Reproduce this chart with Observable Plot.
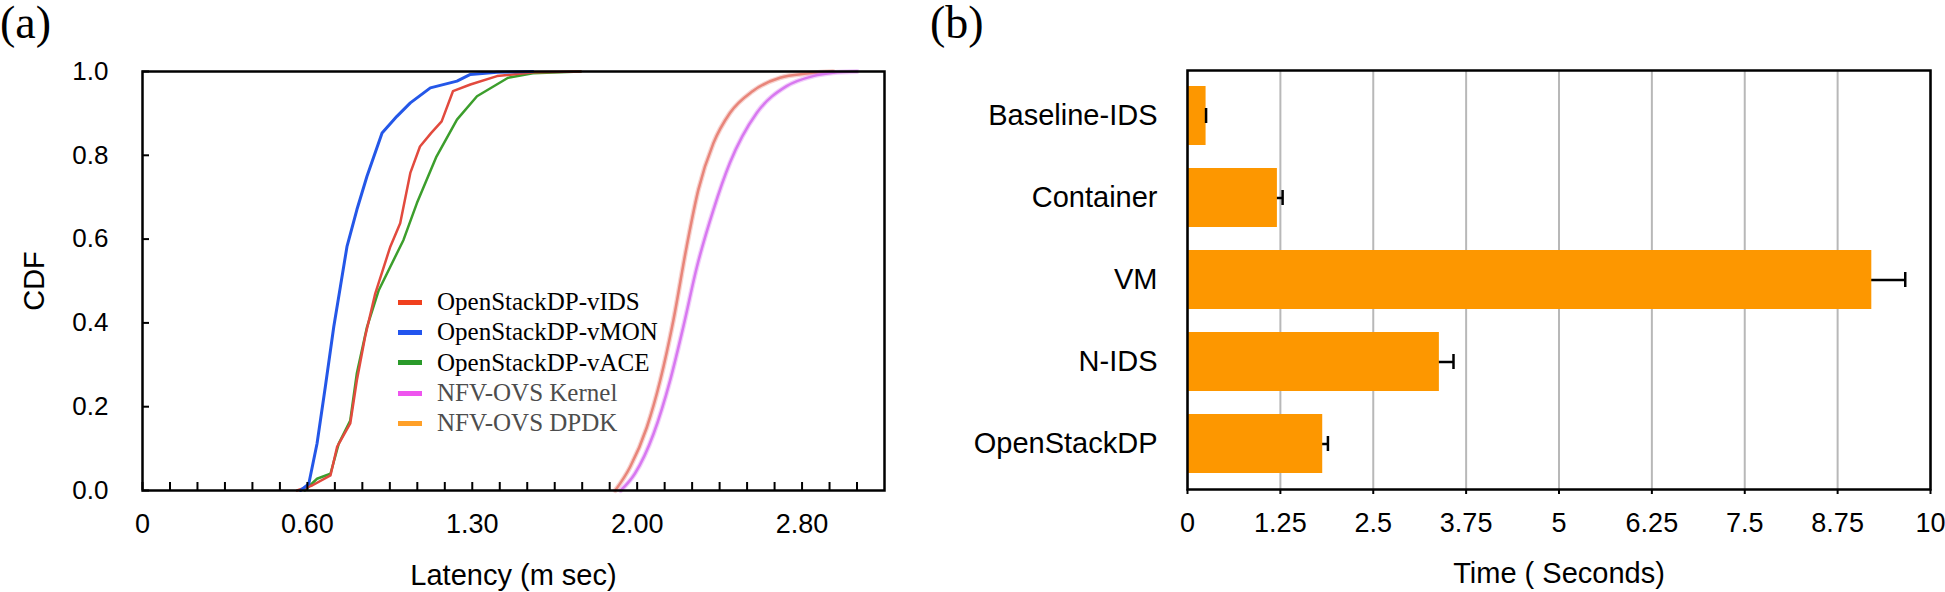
<!DOCTYPE html>
<html><head><meta charset="utf-8">
<script src="https://cdn.jsdelivr.net/npm/d3@7"></script>
<script src="https://cdn.jsdelivr.net/npm/@observablehq/plot@0.6"></script>
<style>
body{margin:0;background:#fff;width:1945px;height:592px;position:relative;overflow:hidden;font-family:"Liberation Sans",Arial,sans-serif}
#a,#b{position:absolute;top:0}
#a{left:0}
#b{left:940px}
.tag{position:absolute;font-family:"Liberation Serif","Times New Roman",serif;font-size:46px;line-height:46px;color:#000}
#legend{position:absolute;left:398px;top:287px;font-family:"Liberation Serif","Times New Roman",serif;font-size:25px}
#legend .row{height:30.3px;display:flex;align-items:center;white-space:nowrap}
#legend .sw{width:24px;height:5px;margin-right:15px}
</style></head><body>
<div id="a"></div><div id="b"></div>
<div class="tag" style="left:0;top:0">(a)</div>
<div class="tag" style="left:930px;top:0">(b)</div>
<div id="legend"></div>
<script>
// ---------- Panel (a) data: CDF of latency ----------
const latencyLabels = [0, 0.6, 1.3, 2.0, 2.8];
const latencyEnd = 3.2;
const cdfTicks = [0, 0.2, 0.4, 0.6, 0.8, 1.0];

const seriesNames = ["OpenStackDP-vIDS", "OpenStackDP-vMON", "OpenStackDP-vACE", "NFV-OVS Kernel", "NFV-OVS DPDK"];
const legendColors = ["#f0401e", "#2255ee", "#2a9a2a", "#ee55ee", "#ffa028"];
const legendTextColors = ["#000", "#000", "#000", "#4d4d4d", "#4d4d4d"];
const curveColors = ["#e24a3e", "#2457e8", "#3c9e2c", "#d878f0", "#e8857a"];

const vidsLatency = [0.562, 0.62, 0.698, 0.726, 0.782, 0.81, 0.845, 0.888, 0.952, 0.994, 1.037, 1.078, 1.125, 1.17, 1.218, 1.292, 1.405, 1.56, 1.76];
const vidsCdf     = [0, 0.012, 0.036, 0.104, 0.16, 0.263, 0.367, 0.47, 0.582, 0.638, 0.758, 0.821, 0.853, 0.881, 0.953, 0.969, 0.989, 0.998, 1.0];
const vmonLatency = [0.575, 0.606, 0.641, 0.676, 0.712, 0.74, 0.768, 0.81, 0.853, 0.917, 0.98, 1.037, 1.122, 1.235, 1.292, 1.405, 1.557];
const vmonCdf     = [0, 0.016, 0.112, 0.247, 0.391, 0.486, 0.582, 0.67, 0.75, 0.853, 0.893, 0.925, 0.961, 0.977, 0.993, 0.998, 1.0];
const vaceLatency = [0.59, 0.641, 0.698, 0.733, 0.782, 0.81, 0.853, 0.903, 0.952, 1.008, 1.065, 1.148, 1.235, 1.32, 1.452, 1.557, 1.76];
const vaceCdf     = [0, 0.028, 0.04, 0.112, 0.167, 0.28, 0.39, 0.478, 0.534, 0.598, 0.686, 0.797, 0.885, 0.941, 0.985, 0.996, 1.0];
const kernelLatency = [1.93, 1.99, 2.08, 2.16, 2.224, 2.29, 2.37, 2.45, 2.58, 2.725, 2.853, 2.95, 3.067];
const kernelCdf     = [0, 0.04, 0.136, 0.263, 0.391, 0.534, 0.67, 0.782, 0.901, 0.965, 0.989, 0.997, 1.0];
const dpdkLatency = [1.907, 1.97, 2.047, 2.112, 2.176, 2.24, 2.297, 2.37, 2.45, 2.56, 2.693, 2.823, 2.95];
const dpdkCdf     = [0, 0.056, 0.151, 0.263, 0.407, 0.582, 0.718, 0.829, 0.901, 0.953, 0.985, 0.995, 1.0];

// ---------- Panel (b) data ----------
const systems = ["Baseline-IDS", "Container", "VM", "N-IDS", "OpenStackDP"];
const times = [0.25, 1.21, 9.21, 3.39, 1.82];
const timeErr = [0.0, 0.07, 0.45, 0.19, 0.07];
const timeTicks = [0, 1.25, 2.5, 3.75, 5, 6.25, 7.5, 8.75, 10];

// ---------- legend ----------
const leg = document.getElementById("legend");
seriesNames.forEach((n, i) => {
  const r = document.createElement("div"); r.className = "row";
  const s = document.createElement("span"); s.className = "sw"; s.style.background = legendColors[i];
  const t = document.createElement("span"); t.textContent = n; t.style.color = legendTextColors[i];
  r.append(s, t); leg.append(r);
});

// ---------- chart (a) ----------
const WA = 930, H = 592;
const mA = {left: 142, right: 46, top: 71, bottom: 102};
const segUnits = [0, 6, 12, 18, 24, 27]; // minor-tick counts at each breakpoint
const xDomain = [...latencyLabels, latencyEnd];
const xa0 = mA.left, xa1 = WA - mA.right;
const xRange = segUnits.map(u => xa0 + (xa1 - xa0) * u / 27);
const minorTicks = [];
for (let i = 0; i < xDomain.length - 1; i++) {
  const n = segUnits[i + 1] - segUnits[i];
  for (let j = 0; j < n; j++) minorTicks.push(xDomain[i] + (xDomain[i + 1] - xDomain[i]) * j / n);
}
const lats = [vidsLatency, vmonLatency, vaceLatency, kernelLatency, dpdkLatency];
const cdfs = [vidsCdf, vmonCdf, vaceCdf, kernelCdf, dpdkCdf];
const curves = seriesNames.map((n, i) => lats[i].map((v, k) => ({series: n, latency: v, cdf: cdfs[i][k]})));
const drawOrder = [4, 3, 2, 0, 1];
const lineMarks = [];
drawOrder.forEach(i => {
  const smooth = i >= 3;
  if (smooth) lineMarks.push(Plot.line(curves[i], {x: "latency", y: "cdf", stroke: curveColors[i], strokeWidth: 5, strokeOpacity: 0.35, curve: "monotone-x"}));
  lineMarks.push(Plot.line(curves[i], {x: "latency", y: "cdf", stroke: curveColors[i], strokeWidth: i === 1 ? 3 : 2.5, curve: smooth ? "monotone-x" : "linear"}));
});

const chartA = Plot.plot({
  width: WA, height: H,
  marginLeft: mA.left, marginRight: mA.right, marginTop: mA.top, marginBottom: mA.bottom,
  style: {fontFamily: "'Liberation Sans', Arial, sans-serif", fontSize: "26px", color: "#000", background: "transparent"},
  x: {type: "linear", domain: xDomain, range: xRange},
  y: {domain: [0, 1]},
  marks: [
    ...lineMarks,
    Plot.axisY({ticks: cdfTicks, tickSize: -7, tickPadding: 41, tickFormat: d => d.toFixed(1), label: null, fontSize: 26, strokeWidth: 2}),
    Plot.axisX({ticks: minorTicks, tickSize: -8, tickFormat: () => "", label: null, strokeWidth: 2}),
    Plot.axisX({ticks: latencyLabels, tickSize: 0, tickPadding: 23, tickFormat: d => d === 0 ? "0" : d.toFixed(2), label: null, fontSize: 27}),
    Plot.frame({stroke: "#000", strokeWidth: 2.5}),
    Plot.text(["CDF"], {frameAnchor: "left", dx: -108, rotate: -90, textAnchor: "middle", lineAnchor: "middle", fontSize: 29}),
    Plot.text(["Latency (m sec)"], {frameAnchor: "bottom", dy: 85, lineAnchor: "middle", fontSize: 29})
  ]
});
document.getElementById("a").append(chartA);

// ---------- chart (b) ----------
const WB = 1005;
const rows = systems.map((s, i) => ({system: s, time: times[i], err: timeErr[i]}));
const chartB = Plot.plot({
  width: WB, height: H,
  marginLeft: 247, marginRight: 15, marginTop: 70, marginBottom: 103,
  style: {fontFamily: "'Liberation Sans', Arial, sans-serif", fontSize: "27px", color: "#000", background: "transparent"},
  x: {domain: [0, 10]},
  y: {type: "band", domain: systems, paddingInner: 0.28, paddingOuter: 0.18},
  marks: [
    Plot.gridX(timeTicks, {stroke: "#b8b8b8", strokeOpacity: 1, strokeWidth: 2}),
    Plot.ruleY(rows, {y: "system", x1: d => d.time - d.err, x2: d => d.time + d.err, stroke: "#000", strokeWidth: 2.5}),
    Plot.barX(rows, {x: "time", y: "system", fill: "#fd9700"}),
    Plot.tickX(rows, {x: d => d.time + d.err, y: "system", stroke: "#000", strokeWidth: 2.5, insetTop: 22, insetBottom: 22}),
    Plot.axisX({ticks: timeTicks, tickSize: 5, tickPadding: 18, tickFormat: d => String(d), label: null, fontSize: 27, strokeWidth: 2}),
    Plot.axisY({tickSize: 0, tickPadding: 30, label: null, fontSize: 29}),
    Plot.frame({stroke: "#000", strokeWidth: 2.5}),
    Plot.text(["Time ( Seconds)"], {frameAnchor: "bottom", dy: 84, lineAnchor: "middle", fontSize: 29})
  ]
});
document.getElementById("b").append(chartB);
</script>
</body></html>
